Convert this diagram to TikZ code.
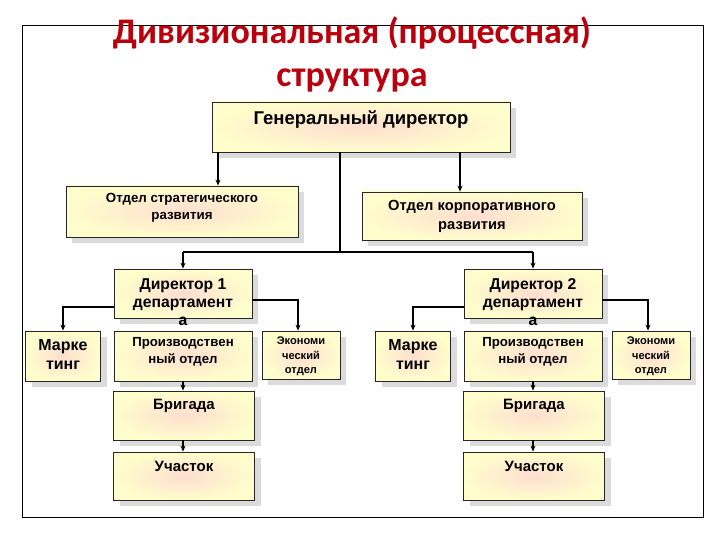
\documentclass[tikz,border=0pt]{standalone}
\usepackage{fontspec}
\setmainfont{Liberation Sans}
\newfontfamily\titlefont{Carlito}
\usetikzlibrary{arrows.meta,shadows}
\definecolor{glow}{RGB}{255,222,208}
\definecolor{pale}{RGB}{255,253,204}
\definecolor{titlered}{RGB}{185,0,12}
\begin{document}
\begin{tikzpicture}[x=1pt,y=-1pt,
  bx/.style={draw=black!85, line width=0.8pt, inner color=glow, outer color=pale,
    drop shadow={shadow xshift=6pt, shadow yshift=-6pt, fill=black!14, opacity=1},
    inner sep=0pt},
  tx/.style={align=center, font=\bfseries, inner sep=0pt},
  con/.style={line width=1.2pt, black},
  arr/.style={con, -{Stealth[length=6pt,width=5pt]}}]
\useasboundingbox (0,0) rectangle (720,540);
\fill[white] (0,0) rectangle (720,540);
\draw[line width=0.8pt] (22,25) rectangle (703,517);
% title
\node[align=center, text=titlered, font=\titlefont\bfseries\fontsize{36}{43}\selectfont, inner sep=0pt] (title) at (352,54) {Дивизиональная (процессная)\\структура};
% boxes
\node[bx, minimum width=298, minimum height=50] (g) at (361,127) {};
\node[tx, font=\bfseries\fontsize{18.5}{22}\selectfont] (gt) at ([yshift=7pt]g.center) {Генеральный директор};
\node[bx, minimum width=232, minimum height=51] (s) at (182,211.5) {};
\node[tx, font=\bfseries\fontsize{13.3}{17}\selectfont] (st) at ([yshift=4pt]s.center) {Отдел стратегического\\развития};
\node[bx, minimum width=220, minimum height=48] (k) at (472,216) {};
\node[tx, font=\bfseries\fontsize{14.7}{19}\selectfont] (kt) at (k.center) {Отдел корпоративного\\развития};
% divisions
\foreach \n/\dx in {1/0,2/350}{
  \node[bx, minimum width=138, minimum height=49] (d\n) at (183+\dx,293.5) {};
  \node[bx, minimum width=75, minimum height=50] (m\n) at (63+\dx,356) {};
  \node[bx, minimum width=138, minimum height=50] (p\n) at (183+\dx,356) {};
  \node[bx, minimum width=78, minimum height=48] (e\n) at (301+\dx,355) {};
  \node[bx, minimum width=141, minimum height=49] (b\n) at (184+\dx,415.5) {};
  \node[bx, minimum width=141, minimum height=48] (u\n) at (184+\dx,476) {};
  \node[tx, font=\bfseries\fontsize{15.7}{18}\selectfont] (d\n t) at ([yshift=-8.5pt]d\n.center) {Директор \n\\департамент\\а};
  \node[tx, font=\bfseries\fontsize{16}{19}\selectfont] (m\n t) at ([yshift=1.5pt]m\n.center) {Марке\\тинг};
  \node[tx, font=\bfseries\fontsize{13.2}{17}\selectfont] (p\n t) at ([yshift=4.5pt]p\n.center) {Производствен\\ный отдел};
  \node[tx, font=\bfseries\fontsize{11.1}{14.5}\selectfont] (e\n t) at ([yshift=-1.5pt]e\n.center) {Экономи\\ческий\\отдел};
  \node[tx, font=\bfseries\fontsize{15}{18}\selectfont] (b\n t) at ([yshift=9.5pt]b\n.center) {Бригада};
  \node[tx, font=\bfseries\fontsize{15}{18}\selectfont] (u\n t) at ([yshift=10pt]u\n.center) {Участок};
  \draw[arr] ([yshift=-13.5pt]d\n.west) -| (m\n.north);
  \draw[arr] ([yshift=-6.5pt]d\n.east) -| ([xshift=-3pt]e\n.north);
  \draw[arr] (p\n.south) -- (p\n.south |- b\n.north);
  \draw[arr] (b\n.south -| p\n.south) -- (p\n.south |- u\n.north);
}
% top connectors
\coordinate (hub) at (340,252);
\draw[arr] (g.south -| 218,0) -- (s.north -| 218,0);
\draw[arr] (g.south -| 460,0) -- (k.north -| 460,0);
\draw[con] (g.south -| hub) -- (hub);
\draw[con] (hub) -- (hub -| d1.north) ;
\draw[con] (hub) -- (hub -| d2.north);
\draw[arr] (hub -| d1.north) -- (d1.north);
\draw[arr] (hub -| d2.north) -- (d2.north);
\end{tikzpicture}
\end{document}
